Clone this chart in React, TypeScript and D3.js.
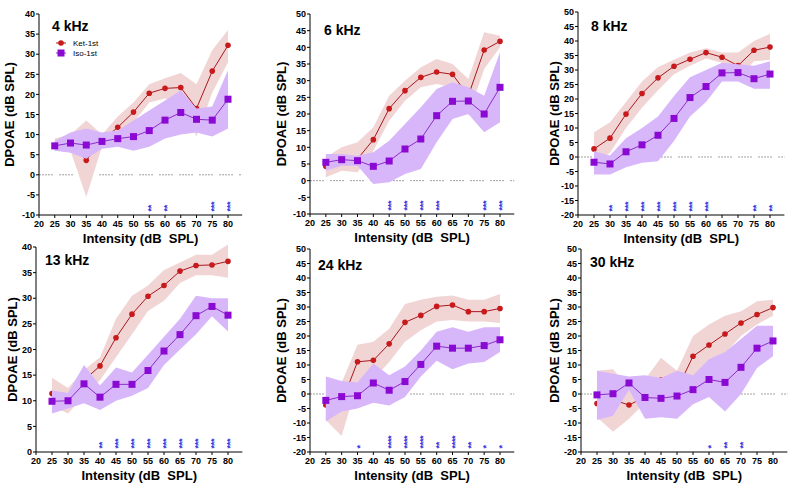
import React from "react";
import * as d3 from "d3";

const intensity = [25, 30, 35, 40, 45, 50, 55, 60, 65, 70, 75, 80];
const xTicks = [20, 25, 30, 35, 40, 45, 50, 55, 60, 65, 70, 75, 80];

// 4 kHz
const ket4 = [7.2, 7.8, 3.6, 8.5, 11.8, 15.6, 20.3, 21.5, 21.7, 16.5, 25.8, 32.2];
const ket4Hi = [9, 10, 13.5, 10, 14.5, 18, 22.5, 24, 25.3, 22.5, 31, 36];
const ket4Lo = [6, 6, -5.5, 7, 9, 13, 18, 19, 18, 9.5, 20.5, 28];
const iso4 = [7.2, 7.9, 7.4, 8.3, 9.0, 9.5, 11.0, 13.6, 15.5, 13.8, 13.6, 18.8];
const iso4Hi = [8.5, 10.5, 11.5, 10.5, 11, 13.5, 16, 18.5, 21, 16.5, 17, 26];
const iso4Lo = [6, 5.5, 4, 6.5, 7, 6, 7, 9, 10, 10.5, 9.5, 11.5];
const stars4 = ["", "", "", "", "", "", "**", "**", "", "", "***", "***"];

// 6 kHz
const ket6 = [4.3, 6, 6.5, 12.3, 21.6, 27, 31, 32.6, 31.9, 25.5, 39.2, 41.8];
const ket6Hi = [7, 10, 11.5, 16, 25.5, 30, 34, 36.5, 35, 30.5, 44.5, 43.5];
const ket6Lo = [1, 3, 2.5, 9, 18, 24, 28, 29, 28, 19.5, 33.5, 40];
const iso6 = [5.5, 6.3, 6.0, 4.3, 5.9, 9.5, 12.5, 19.5, 23.8, 23.9, 20, 28];
const iso6Hi = [8, 8, 7.5, 8.5, 12, 17, 22, 27.5, 29.5, 28, 25.5, 38.5];
const iso6Lo = [3, 4.5, 4.5, -1, -0.5, 2, 3.5, 11.5, 18.5, 20, 14.5, 17.5];
const stars6 = ["", "", "", "", "***", "***", "***", "***", "", "", "***", "***"];

// 8 kHz
const ket8 = [2.8, 6.5, 14.8, 21.9, 27.3, 31.3, 33.7, 36.0, 34.4, 31.5, 36.8, 37.9];
const ket8Hi = [8.5, 12, 19, 26, 31, 33.5, 36, 37.5, 36, 36, 40, 42.5];
const ket8Lo = [-2, 1.5, 10, 17, 23, 28.5, 31.5, 34, 32.5, 27, 33, 33.5];
const iso8 = [-1.8, -2.4, 1.8, 4.2, 7.5, 13.3, 20.5, 24.3, 29, 29.1, 27, 28.6];
const iso8Hi = [2, 0.5, 6.5, 10, 14, 21, 27.5, 30, 32.5, 32, 31.5, 33];
const iso8Lo = [-6, -6, -3.5, -2, -1.5, 5.5, 14, 19, 26, 26, 23.5, 23.5];
const stars8 = ["", "**", "***", "***", "***", "***", "***", "***", "", "", "**", "**"];

// 13 kHz
const ket13 = [11.4, 10.3, 14, 16.8, 22.3, 26.9, 30.4, 32.5, 35.3, 36.4, 36.5, 37.2];
const ket13Hi = [14.5, 12.5, 16, 18.5, 26, 30.5, 32.5, 35.5, 37, 38.5, 38.5, 40.5];
const ket13Lo = [9, 7.5, 11, 14, 18.5, 23, 27.5, 29.5, 33, 34.5, 34.5, 34];
const iso13 = [9.9, 10, 13.3, 10.7, 13.2, 13.2, 15.9, 19.7, 22.9, 26.6, 28.4, 26.7];
const iso13Hi = [12, 11.5, 17, 13, 16.5, 15.5, 19, 22.5, 26, 30.5, 30, 30];
const iso13Lo = [7.5, 8.5, 9.5, 8.2, 10, 11, 12.5, 17, 20, 23, 26.5, 23.5];
const stars13 = ["", "", "", "**", "***", "***", "***", "***", "***", "***", "***", "***"];

// 24 kHz
const ket24 = [-3.8, -3, 11.1, 11.6, 17.3, 24.7, 27.1, 30.2, 30.7, 28.4, 28.4, 29.5];
const ket24Hi = [2, 4, 17, 18, 22.5, 31, 32.5, 33.5, 34, 32.5, 32.5, 34.5];
const ket24Lo = [-9, -14.5, 4, 5, 11, 18, 22, 25, 25.5, 25, 25, 24.5];
const iso24 = [-2.2, -0.9, -0.6, 3.8, 1.3, 4.3, 10.2, 16.5, 15.8, 15.8, 16.7, 18.7];
const iso24Hi = [6, 4.5, 4, 10.5, 6.5, 9.5, 15, 21.5, 23, 21.5, 23, 23];
const iso24Lo = [-9.5, -6, -5, -3, -4, -1, 6, 11.5, 8.5, 10.5, 11, 14.5];
const stars24 = ["", "", "*", "", "****", "****", "****", "**", "****", "**", "*", "*"];

// 30 kHz
const ket30 = [-3.3, -2, -3.8, -1, 4.8, 1.5, 13, 16.9, 20.7, 24.5, 27.4, 29.8];
const ket30Hi = [8, 8.5, 2, 5, 12.5, 8, 20, 24, 27, 28.5, 32, 32.5];
const ket30Lo = [-8, -13, -8.5, -3, -3, 0, 5, 10, 14, 20, 24, 27];
const iso30 = [-0.3, 0.1, 3.8, -1.2, -1.5, -0.7, 1.5, 5, 4, 9.2, 15.8, 18.3];
const iso30Hi = [8, 7, 6, 6.5, 5.5, 8, 6.5, 12, 14.5, 19, 23.5, 23.5];
const iso30Lo = [-9, -7.5, 1.5, -8.5, -8, -8.5, -3.5, -1, -6, 0, 9, 13];
const stars30 = ["", "", "", "", "", "", "", "*", "**", "**", "", ""];

const RED = "#c8191c";
const RED_LINE = "#a8171c";
const RED_BAND = "#f1d5d5";
const PURPLE = "#8a0ad4";
const PURPLE_LINE = "#8c2cc8";
const PURPLE_BAND = "#d8b6fa";
const STAR = "#3434e0";
const FONT = "'Liberation Sans', Arial, sans-serif";

type Cfg = {
  title: string;
  ket: number[]; ketHi: number[]; ketLo: number[];
  iso: number[]; isoHi: number[]; isoLo: number[];
  stars: string[];
  yMin: number; yMax: number;
  x0: number; x80: number; yTop: number; yBot: number;
  yTitleDx: number; titleDx: number; titleDy: number;
  legend?: boolean;
};

const panels: Cfg[] = [
  { title: "4 kHz", ket: ket4, ketHi: ket4Hi, ketLo: ket4Lo, iso: iso4, isoHi: iso4Hi, isoLo: iso4Lo, stars: stars4,
    yMin: -10, yMax: 40, x0: 39, x80: 228, yTop: 14, yBot: 215, yTitleDx: -30, titleDx: 13, titleDy: 17, legend: true },
  { title: "6 kHz", ket: ket6, ketHi: ket6Hi, ketLo: ket6Lo, iso: iso6, isoHi: iso6Hi, isoLo: iso6Lo, stars: stars6,
    yMin: -10, yMax: 50, x0: 310, x80: 500, yTop: 14, yBot: 214, yTitleDx: -29, titleDx: 14, titleDy: 21 },
  { title: "8 kHz", ket: ket8, ketHi: ket8Hi, ketLo: ket8Lo, iso: iso8, isoHi: iso8Hi, isoLo: iso8Lo, stars: stars8,
    yMin: -20, yMax: 50, x0: 578, x80: 770, yTop: 12, yBot: 215, yTitleDx: -24, titleDx: 13, titleDy: 19 },
  { title: "13 kHz", ket: ket13, ketHi: ket13Hi, ketLo: ket13Lo, iso: iso13, isoHi: iso13Hi, isoLo: iso13Lo, stars: stars13,
    yMin: 0, yMax: 40, x0: 36, x80: 228, yTop: 247, yBot: 452, yTitleDx: -24, titleDx: 9, titleDy: 18 },
  { title: "24 kHz", ket: ket24, ketHi: ket24Hi, ketLo: ket24Lo, iso: iso24, isoHi: iso24Hi, isoLo: iso24Lo, stars: stars24,
    yMin: -20, yMax: 50, x0: 310, x80: 500, yTop: 249, yBot: 452, yTitleDx: -29, titleDx: 8, titleDy: 21 },
  { title: "30 kHz", ket: ket30, ketHi: ket30Hi, ketLo: ket30Lo, iso: iso30, isoHi: iso30Hi, isoLo: iso30Lo, stars: stars30,
    yMin: -20, yMax: 50, x0: 581, x80: 773, yTop: 249, yBot: 452, yTitleDx: -27, titleDx: 9, titleDy: 18 },
];

const Panel = ({ c }: { c: Cfg }) => {
  const perUnit = (c.x80 - c.x0) / 60;
  const xEnd = c.x80 + 4.5 * perUnit;
  const x = d3.scaleLinear().domain([20, 84.5]).range([c.x0, xEnd]);
  const y = d3.scaleLinear().domain([c.yMin, c.yMax]).range([c.yBot, c.yTop]);
  const yTicks = d3.range(c.yMin, c.yMax + 0.1, 5);

  const area = (hi: number[], lo: number[]) =>
    d3.area<number>()
      .x((_, i) => x(intensity[i]))
      .y0((_, i) => y(lo[i]))
      .y1((_, i) => y(hi[i]))(intensity) || "";
  const line = (vals: number[]) =>
    d3.line<number>()
      .x((_, i) => x(intensity[i]))
      .y((d) => y(d))(vals) || "";

  return (
    <g fontFamily={FONT}>
      {c.yMin < 0 && (
        <line x1={c.x0} x2={xEnd} y1={y(0)} y2={y(0)} stroke="#7a7a7a" strokeWidth={0.7}
          strokeDasharray="2 1 2 1 2 1 2 1 2 6" />
      )}
      <path d={area(c.ketHi, c.ketLo)} fill={RED_BAND} />
      <path d={line(c.ket)} fill="none" stroke={RED_LINE} strokeWidth={1} />
      {c.ket.map((v, i) => (
        <circle key={"k" + i} cx={x(intensity[i])} cy={y(v)} r={2.8} fill={RED} />
      ))}
      <path d={area(c.isoHi, c.isoLo)} fill={PURPLE_BAND} />
      <path d={line(c.iso)} fill="none" stroke={PURPLE_LINE} strokeWidth={1} />
      {c.iso.map((v, i) => (
        <rect key={"s" + i} x={x(intensity[i]) - 3.5} y={y(v) - 3.5} width={7} height={7} fill={PURPLE} />
      ))}
      {c.stars.map((s, i) =>
        s ? (
          <text key={"st" + i} transform={`translate(${x(intensity[i])},${c.yBot - 3.5}) rotate(-90)`}
            dy="0.58em" fontSize={9} fontWeight="bold" fill={STAR} letterSpacing={-0.3}>{s}</text>
        ) : null
      )}
      {/* axes */}
      <line x1={c.x0} x2={c.x0} y1={c.yTop} y2={c.yBot} stroke="#000" strokeWidth={1} />
      <line x1={c.x0} x2={xEnd} y1={c.yBot} y2={c.yBot} stroke="#000" strokeWidth={1} />
      {yTicks.map((t) => (
        <g key={"yt" + t}>
          <line x1={c.x0 - 3} x2={c.x0} y1={y(t)} y2={y(t)} stroke="#000" />
          <text x={c.x0 - 4} y={y(t) + 3.2} fontSize={9} fontWeight="bold" textAnchor="end">{t}</text>
        </g>
      ))}
      {xTicks.map((t) => (
        <g key={"xt" + t}>
          <line x1={x(t)} x2={x(t)} y1={c.yBot} y2={c.yBot + 3} stroke="#000" />
          <text x={x(t)} y={c.yBot + 12} fontSize={9} fontWeight="bold" textAnchor="middle">{t}</text>
        </g>
      ))}
      <text x={(c.x0 + xEnd) / 2} y={c.yBot + 28} fontSize={13} fontWeight="bold" textAnchor="middle">
        {"Intensity (dB\u00a0 SPL)"}
      </text>
      <text transform={`translate(${c.x0 + c.yTitleDx},${(c.yTop + c.yBot) / 2}) rotate(-90)`} dy={4.5}
        fontSize={13} fontWeight="bold" textAnchor="middle">DPOAE (dB SPL)</text>
      <text x={c.x0 + c.titleDx} y={c.yTop + c.titleDy} fontSize={14} fontWeight="bold">{c.title}</text>
      {c.legend && (
        <g>
          <line x1={56} x2={66} y1={43} y2={43} stroke={RED_LINE} />
          <circle cx={61} cy={43} r={2.8} fill={RED} />
          <text x={73} y={46} fontSize={8}>Ket-1st</text>
          <line x1={56} x2={66} y1={53} y2={53} stroke={PURPLE_LINE} />
          <rect x={57.5} y={49.5} width={7} height={7} fill={PURPLE} />
          <text x={73} y={56} fontSize={8}>Iso-1st</text>
        </g>
      )}
    </g>
  );
};

export default function App() {
  return (
    <svg width={789} height={489} style={{ position: "absolute", left: 0, top: 0, background: "#fff" }}>
      <rect width={789} height={489} fill="#fff" />
      {panels.map((p) => (
        <Panel key={p.title} c={p} />
      ))}
    </svg>
  );
}
